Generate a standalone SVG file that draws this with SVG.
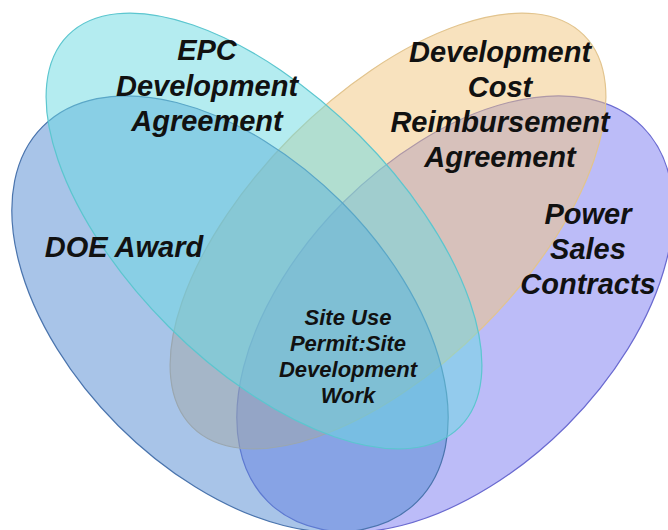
<svg xmlns="http://www.w3.org/2000/svg" width="668" height="530" viewBox="0 0 668 530">
  <style>
    .set { stroke-width: 1.2; fill-opacity: 0.5; }
    .lbl { font-family: "Liberation Sans", Arial, sans-serif; font-weight: bold; font-style: italic; fill: #111; text-anchor: middle; }
    .big { font-size: 29px; }
    .small { font-size: 22px; }
  </style>
  <rect width="668" height="530" fill="#ffffff"/>
  <g id="power-sales-contracts">
    <ellipse class="set" cx="455" cy="314" rx="265" ry="158" transform="rotate(-45 455 314)" fill="#7979f1" stroke="#6a6ad0"/>
  </g>
  <g id="development-cost-reimbursement-agreement">
    <ellipse class="set" cx="388" cy="231" rx="277" ry="135" transform="rotate(-45 388 231)" fill="#f1c57d" stroke="#e2c48e"/>
  </g>
  <g id="doe-award">
    <ellipse class="set" cx="230" cy="314" rx="265" ry="158" transform="rotate(45 230 314)" fill="#5189d1" stroke="#4a74ad"/>
  </g>
  <g id="epc-development-agreement">
    <ellipse class="set" cx="264" cy="231" rx="277" ry="135" transform="rotate(45 264 231)" fill="#69d9e1" stroke="#5cc6cf"/>
  </g>
  <g id="connectors"/>
  <g id="labels">
    <g id="label-epc">
      <text class="lbl big" x="207" y="60">EPC</text>
      <text class="lbl big" x="207" y="96">Development</text>
      <text class="lbl big" x="207" y="131">Agreement</text>
    </g>
    <g id="label-devcost">
      <text class="lbl big" x="500" y="62">Development</text>
      <text class="lbl big" x="500" y="97">Cost</text>
      <text class="lbl big" x="500" y="132">Reimbursement</text>
      <text class="lbl big" x="500" y="167">Agreement</text>
    </g>
    <g id="label-doe">
      <text class="lbl big" x="124" y="257">DOE Award</text>
    </g>
    <g id="label-power">
      <text class="lbl big" x="588" y="224">Power</text>
      <text class="lbl big" x="588" y="259">Sales</text>
      <text class="lbl big" x="588" y="294">Contracts</text>
    </g>
    <g id="label-center">
      <text class="lbl small" x="348" y="325">Site Use</text>
      <text class="lbl small" x="348" y="351">Permit:Site</text>
      <text class="lbl small" x="348" y="377">Development</text>
      <text class="lbl small" x="348" y="403">Work</text>
    </g>
  </g>
</svg>
